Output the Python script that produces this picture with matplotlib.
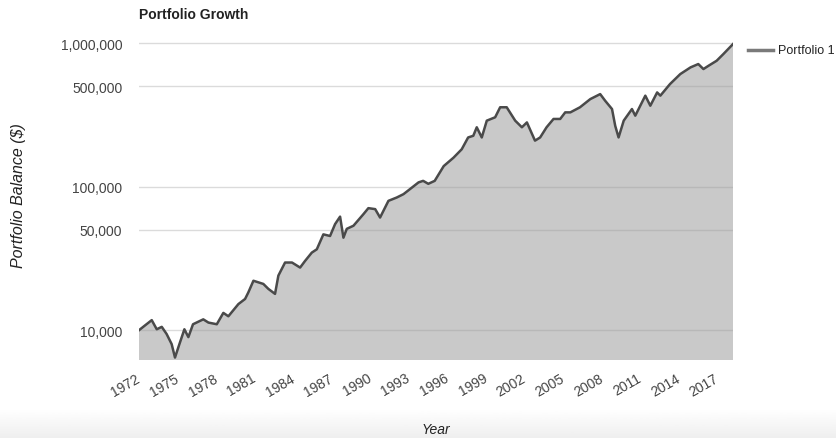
import numpy as np
import matplotlib
matplotlib.use("Agg")
import matplotlib.pyplot as plt
from matplotlib.ticker import FuncFormatter
from matplotlib.lines import Line2D

plt.rcParams['font.family'] = ['Liberation Sans', 'DejaVu Sans']

# Portfolio balance (year, $)
years = [1972.0, 1972.47, 1972.99, 1973.38, 1973.77, 1974.15, 1974.54, 1974.80,
         1975.06, 1975.53, 1975.84, 1976.2, 1977.0, 1977.4, 1978.05, 1978.56,
         1978.95, 1979.73, 1980.25, 1980.5, 1980.9, 1981.67, 1982.06, 1982.58,
         1982.84, 1983.36, 1983.9, 1984.53, 1984.92, 1985.44, 1985.83, 1986.34,
         1986.86, 1987.25, 1987.64, 1987.9, 1988.16, 1988.68, 1989.45, 1989.84,
         1990.37, 1990.75, 1991.4, 1992.05, 1992.57, 1993.09, 1993.74, 1994.1,
         1994.5, 1995.0, 1995.7, 1996.46, 1997.1, 1997.6, 1998.0, 1998.27,
         1998.66, 1999.05, 1999.7, 2000.09, 2000.6, 2001.26, 2001.78, 2002.17,
         2002.8, 2003.2, 2003.7, 2004.24, 2004.76, 2005.15, 2005.55, 2006.3,
         2007.1, 2007.87, 2008.26, 2008.79, 2009.04, 2009.3, 2009.7, 2010.34,
         2010.6, 2011.38, 2011.77, 2012.3, 2012.55, 2013.3, 2014.1, 2014.9,
         2015.5, 2015.9, 2016.3, 2016.93, 2017.45, 2018.2]
balance = [10000, 10800, 11750, 10150, 10550, 9400, 8000, 6450,
           7600, 10150, 8950, 11000, 11900, 11300, 11000, 13200,
           12500, 15200, 16500, 18300, 22100, 21000, 19400, 17900,
           24000, 29600, 29600, 27300, 30400, 34700, 36600, 46500,
           45300, 54800, 61800, 44100, 50800, 53400, 64200, 70800,
           69700, 60900, 79600, 84000, 88600, 96300, 107000, 109700,
           104600, 109700, 139000, 159000, 182000, 220000, 226000, 259000,
           220000, 288000, 304000, 357000, 357000, 288000, 259000, 280000,
           209000, 220000, 259000, 296000, 296000, 329000, 329000, 357000,
           407000, 441000, 396000, 347000, 265000, 220000, 288000, 347000,
           312000, 430000, 366000, 453000, 430000, 518000, 608000, 677000,
           714000, 659000, 695000, 753000, 838000, 984000]

year_ticks = list(range(1972, 2018, 3))
y_ticks = [10000, 50000, 100000, 500000, 1000000]

fig = plt.figure(figsize=(8.36, 4.39), dpi=100)

# faint shadow band at the bottom of the screenshot
bg = fig.add_axes([0, 0, 1, 0.065])
grad = np.linspace(1.0, 0.935, 50).reshape(-1, 1)
bg.imshow(grad, aspect='auto', cmap='gray', vmin=0, vmax=1, extent=[0, 1, 0, 1])
bg.axis('off')

ax = fig.add_axes([139 / 836, 1 - 361 / 439, 594 / 836, 318.8 / 439])
ax.fill_between(years, balance, 1, color='#c9c9c9', lw=0, zorder=1)
ax.plot(years, balance, color='#4a4a4a', lw=1.8, zorder=3)

ax.set_yscale('log')
ax.set_xlim(1972.0, 2018.2)
ax.set_ylim(6200, 1.03e6)

ax.set_yticks(y_ticks)
ax.yaxis.set_minor_locator(plt.NullLocator())
ax.yaxis.set_major_formatter(FuncFormatter(lambda v, p: f"{int(v):,}"))
ax.set_xticks(year_ticks)
ax.set_xticklabels([str(y) for y in year_ticks], rotation=30, ha='right',
                   va='center', rotation_mode='anchor')

ax.tick_params(axis='both', length=0, labelsize=10, labelcolor='#444444')
ax.tick_params(axis='y', pad=12)
ax.tick_params(axis='x', pad=12)
for s in ax.spines.values():
    s.set_visible(False)

ax.grid(axis='y', color='#999999', alpha=0.35, lw=1, zorder=2)
ax.set_axisbelow(False)

ax.set_title("Portfolio Growth", loc='left', fontsize=10, fontweight='bold',
             color='#222222', pad=17)
ax.set_ylabel("Portfolio Balance ($)", fontsize=11.5, style='italic',
              color='#222222')
ax.yaxis.set_label_coords(-0.19, 0.52)
ax.set_xlabel("Year", fontsize=10, style='italic', color='#222222', labelpad=17)

# legend at the top right
fig.add_artist(Line2D([748 / 836, 773 / 836], [1 - 51 / 439, 1 - 51 / 439],
                      color='#7a7a7a', lw=2.5))
fig.text(778 / 836, 1 - 51 / 439, "Portfolio 1", fontsize=9, color='#222222',
         va='center', ha='left')

fig.savefig("out.png", dpi=100)
